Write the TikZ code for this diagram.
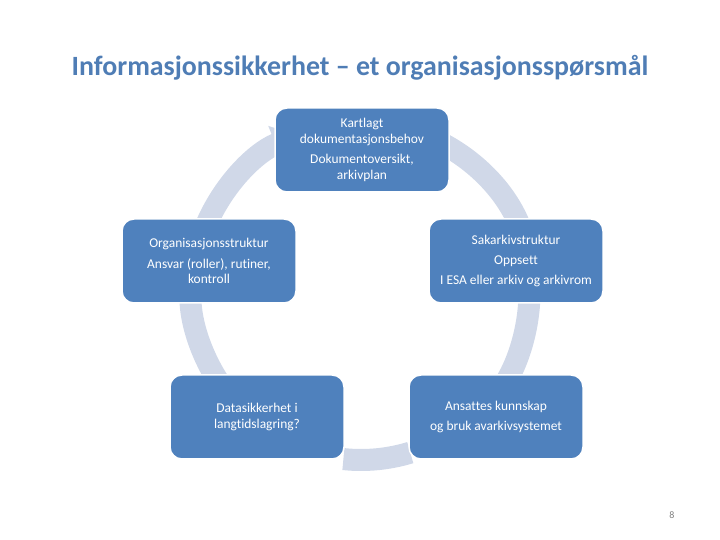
\documentclass[tikz,border=0pt]{standalone}
\usepackage{fontspec}
\setmainfont{Carlito}[Ligatures=NoCommon]
\usetikzlibrary{arrows.meta, calc}
\definecolor{boxblue}{HTML}{4F81BD}
\definecolor{ringgray}{HTML}{D0D8E8}
\definecolor{titleblue}{HTML}{4F7DB5}

\begin{document}
\begin{tikzpicture}[x=1bp, y=1bp,
    box/.style={draw=white, line width=1.5bp, fill=boxblue, rounded corners=12bp,
        minimum width=174bp, minimum height=84bp, text=white, align=center,
        font=\fontsize{13.5}{15.5}\selectfont},
    ring/.style={draw=ringgray, line width=22bp, -{Triangle[width=38bp, length=24bp]}}]
    \useasboundingbox (0,0) rectangle (720,540);

    % Title
    \node[text=titleblue, font=\fontsize{28}{33}\selectfont\bfseries] (title) at (360,472)
        {Informasjonssikkerhet -- et organisasjonsspørsmål};

    % Ring of arrows
    \coordinate (c) at (361,248.5);
    \draw[ring] ([shift={(80:168.5)}]c) arc[start angle=80, end angle=6, radius=168.5];
    \draw[ring] ([shift={(2:168.5)}]c) arc[start angle=2, end angle=-46, radius=168.5];
    \draw[ring, -] ([shift={(-73:168.5)}]c) arc[start angle=-73, end angle=-96, radius=168.5];
    \draw[ring] ([shift={(220:168.5)}]c) arc[start angle=220, end angle=172, radius=168.5];
    \draw[ring] ([shift={(160:168.5)}]c) arc[start angle=160, end angle=112, radius=168.5];

    % Boxes
    \node[box] (kartlagt) at (362,390) {Kartlagt\\dokumentasjonsbehov\\[5bp]Dokumentoversikt,\\arkivplan};
    \node[box] (sakarkiv) at (516,279) {Sakarkivstruktur\\[5bp]Oppsett\\[5bp]I ESA eller arkiv og arkivrom};
    \node[box] (ansatte) at (496,123) {Ansattes kunnskap\\[5bp]og bruk avarkivsystemet};
    \node[box] (datasik) at (257,123) {Datasikkerhet i\\langtidslagring?};
    \node[box] (org) at (209,279) {Organisasjonsstruktur\\[5bp]Ansvar (roller), rutiner,\\kontroll};

    % Page number
    \node[text=gray, font=\fontsize{10}{12}\selectfont] (page) at (672,25) {8};
\end{tikzpicture}
\end{document}
